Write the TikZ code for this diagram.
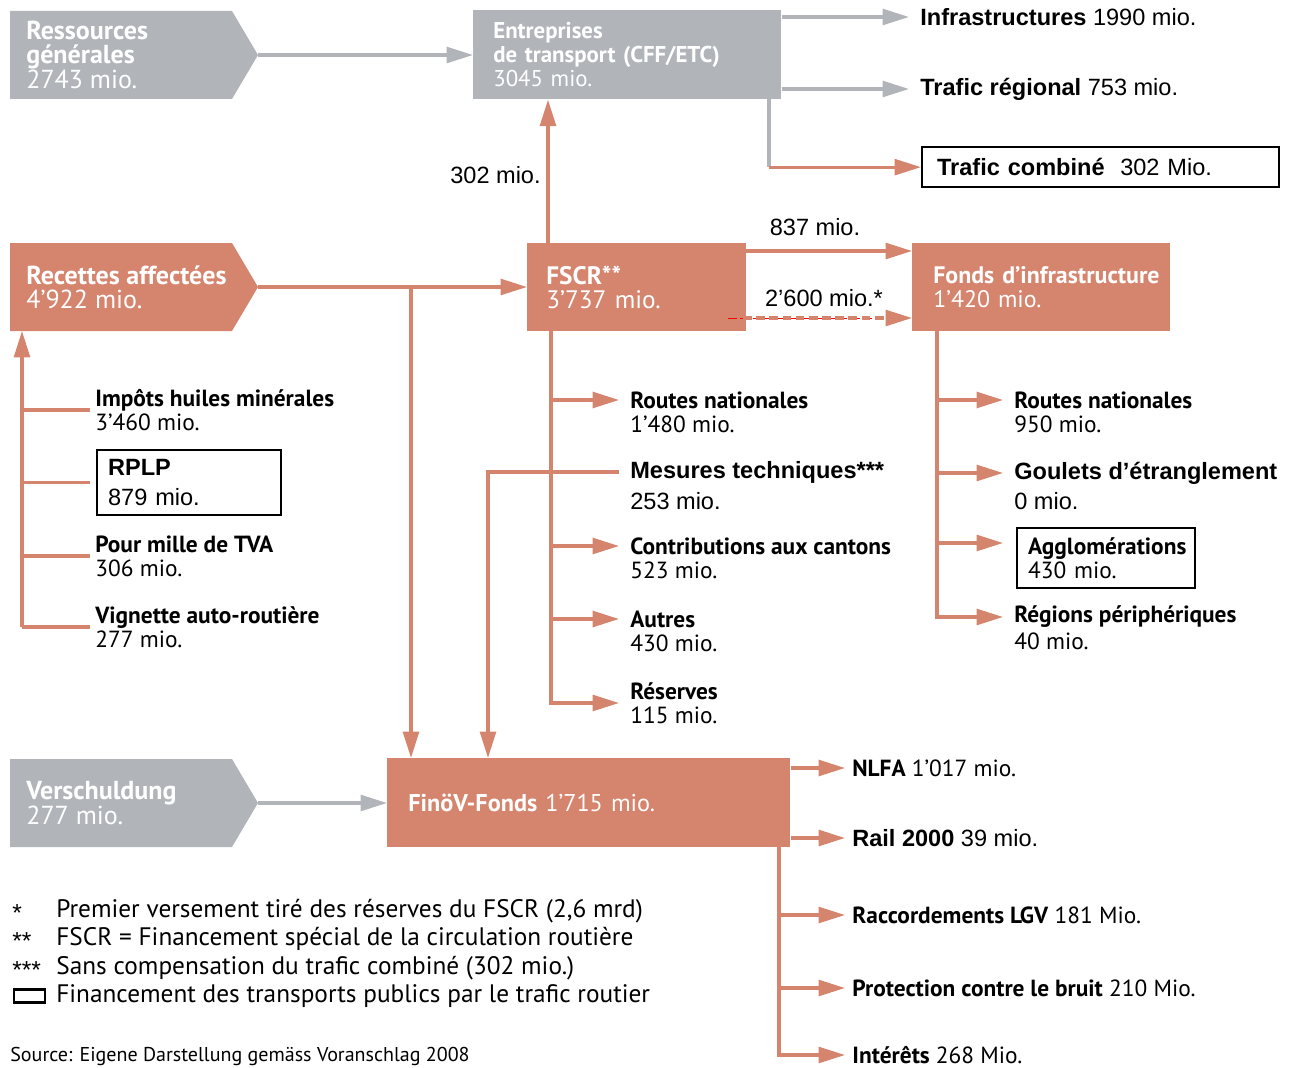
\documentclass[tikz,border=0pt]{standalone}
\usepackage{fontspec}
\setmainfont{PT Sans}
\newfontfamily\arialfont{Liberation Sans}
\usetikzlibrary{arrows.meta, positioning}

\definecolor{fscrorange}{RGB}{213,132,109}
\definecolor{boxgray}{RGB}{177,181,186}

\tikzset{
  orline/.style={draw=fscrorange, line width=1.8pt},
  grline/.style={draw=boxgray, line width=1.8pt},
  arrowto/.style={-{Triangle[length=15pt,width=9pt]}},
  boxtxt/.style={text=white, align=left, inner sep=0pt, anchor=west,
    font=\fontsize{13}{13.6}\selectfont},
  bigtxt/.style={boxtxt, font=\fontsize{14.8}{13.6}\selectfont},
  obox/.style={fill=fscrorange, boxtxt, anchor=north west},
  gbox/.style={fill=boxgray, boxtxt, anchor=north west},
  pubbox/.style={draw=black, line width=1.3pt, inner ysep=0pt, align=left,
    anchor=north west},
  lbl/.style={anchor=west, align=left, inner xsep=0.22cm, inner ysep=1pt,
    font=\fontsize{13.3}{13.6}\selectfont},
  albl/.style={lbl, font=\arialfont\fontsize{13.4}{14}\selectfont},
  note/.style={anchor=west, inner sep=0pt, font=\fontsize{14.4}{15}\selectfont},
}

\begin{document}
\begin{tikzpicture}[x=0.02cm, y=-0.02cm]
\useasboundingbox (0,0) rectangle (1292,1068);

% arrow shaped sources
\fill[boxgray] (10,11) -- (232,11) -- (258,55) -- (232,99) -- (10,99) -- cycle;
\coordinate (res) at (258,55);
\node[bigtxt] (restxt) at (26,55) {\textbf{Ressources}\\\textbf{générales}\\2743 mio.};

\fill[fscrorange] (10,243) -- (232,243) -- (258,287) -- (232,331) -- (10,331) -- cycle;
\coordinate (rec) at (258,287);
\coordinate (recbot) at (22,331);
\node[bigtxt] (rectxt) at (26,287) {\textbf{Recettes affectées}\\4’922 mio.};

\fill[boxgray] (10,759) -- (232,759) -- (258,803) -- (232,847) -- (10,847) -- cycle;
\coordinate (ver) at (258,803);
\node[bigtxt] (vertxt) at (26,803) {\textbf{Verschuldung}\\277 mio.};

% funds
\node[gbox, minimum height=1.78cm, text width=5.36cm, inner xsep=0.4cm] (ent) at (473,10)
  {\textbf{Entreprises}\\\textbf{de transport (CFF/ETC)}\\3045 mio.};
\node[obox, minimum height=1.76cm, text width=3.62cm, inner xsep=0.38cm,
  font=\fontsize{14.4}{13.6}\selectfont] (fscr) at (527,243)
  {\textbf{FSCR**}\\3’737 mio.};
\node[obox, minimum height=1.76cm, text width=4.32cm, inner xsep=0.42cm,
  font=\fontsize{13.6}{13.6}\selectfont] (fonds) at (912,243)
  {\mbox{\textbf{Fonds d’infrastructure}}\\1’420 mio.};
\node[obox, minimum height=1.78cm, text width=7.22cm, inner xsep=0.42cm,
  font=\fontsize{13.8}{13.6}\selectfont] (finov) at (387,758)
  {\textbf{FinöV-Fonds} 1’715 mio.};

\draw[grline, arrowto] (res) -- (ent.west |- res);
\draw[grline, arrowto] (ver) -- (finov.west |- ver);
\draw[orline, arrowto] (rec) -- (fscr.west |- rec);

% public transport
\node[albl] (infra) at (909,17) {\textbf{Infrastructures} 1990 mio.};
\node[albl] (regio) at (909,89) {\textbf{Trafic régional} 753 mio.};
\node[pubbox, minimum height=0.8cm, text width=6.54cm, inner xsep=0.3cm,
  font=\arialfont\fontsize{13.4}{14}\selectfont] (comb) at (921,146)
  {\textbf{Trafic combiné}\ \ 302 Mio.};
\draw[grline, arrowto] (ent.north east |- infra) -- (infra);
\draw[grline, arrowto] (ent.east |- regio) -- (regio);
\coordinate (entdrop) at (769,99);
\draw[grline] (entdrop) -- (entdrop |- comb);
\draw[orline, arrowto] (entdrop |- comb) -- (comb.west);

\coordinate (up) at (548,243);
\draw[orline, arrowto] (up) -- (up |- ent.south);
\node[albl, anchor=east] (l302) at (552,175) {302 mio.};

% FSCR to Fonds
\coordinate (f837) at (746,251);
\draw[orline, arrowto] (f837) -- (fonds.west |- f837);
\node[albl, anchor=center] (l837) at (815,227) {837 mio.};
\coordinate (f2600) at (728,318);
\draw[red, line width=0.35pt, dash pattern=on 5pt off 2pt] (f2600) -- ++(150,0);
\draw[orline, dash pattern=on 5pt off 2.5pt, arrowto] ([xshift=0.3cm]f2600) -- (fonds.west |- f2600);
\node[albl, anchor=center] (l2600) at (824,298) {2’600 mio.*};

% receipts
\coordinate (srcbar) at (22,627);
\node[lbl, inner xsep=0.1cm] (imp) at (90,410) {\textbf{Impôts huiles minérales}\\3’460 mio.};
\node[pubbox, minimum height=1.3cm, text width=3.24cm, inner xsep=0.22cm,
  font=\arialfont\fontsize{13.4}{17}\selectfont] (rplp) at (96,449) {\textbf{RPLP}\\879 mio.};
\node[lbl, inner xsep=0.1cm] (tva) at (90,556) {\textbf{Pour mille de TVA}\\306 mio.};
\node[lbl, inner xsep=0.1cm] (vig) at (90,627) {\textbf{Vignette auto-routière}\\277 mio.};
\draw[orline, arrowto] (srcbar) -- (recbot);
\draw[orline] (srcbar |- imp) -- (imp.west);
\draw[orline] (srcbar |- rplp) -- ([xshift=-0.12cm]rplp.west);
\draw[orline] (srcbar |- tva) -- (tva.west);
\draw[orline] (srcbar) -- (vig.west);
\coordinate (recdrop) at (411,287);
\draw[orline, arrowto] (recdrop) -- (recdrop |- finov.north);

% FSCR uses
\coordinate (fscrbar) at (551,331);
\node[lbl] (rn1) at (619,400) {\textbf{Routes nationales}};
\node[lbl] (rn1v) at (619,424) {1’480 mio.};
\node[albl] (mt) at (619,472) {\textbf{Mesures techniques***}};
\node[albl] (mtv) at (619,501) {253 mio.};
\node[lbl] (ct) at (619,546) {\textbf{Contributions aux cantons}};
\node[lbl] (ctv) at (619,570) {523 mio.};
\node[lbl] (au) at (619,619) {\textbf{Autres}};
\node[lbl] (auv) at (619,643) {430 mio.};
\node[lbl] (rs) at (619,703) {\textbf{Réserves}\\115 mio.};
\draw[orline, arrowto] (fscrbar) |- (rs);
\draw[orline, arrowto] (fscrbar |- rn1) -- (rn1);
\draw[orline, arrowto] (fscrbar |- ct) -- (ct);
\draw[orline, arrowto] (fscrbar |- au) -- (au);
\coordinate (mtx) at (488,472);
\draw[orline, arrowto] (mt.west) -| (mtx |- finov.north);

% Fonds uses
\coordinate (fondsbar) at (937,331);
\node[lbl] (rn2) at (1003,400) {\textbf{Routes nationales}};
\node[lbl] (rn2v) at (1003,424) {950 mio.};
\node[albl] (gl) at (1003,473) {\textbf{Goulets d’étranglement}};
\node[albl] (glv) at (1003,501) {0 mio.};
\node[pubbox, minimum height=1.2cm, text width=3.12cm, inner xsep=0.22cm,
  font=\fontsize{13.3}{13.6}\selectfont] (ag) at (1016,527) {\textbf{Agglomérations}\\430 mio.};
\coordinate (agin) at (1003,543);
\node[lbl] (rp) at (1003,617) {\textbf{Régions périphériques}};
\node[lbl] (rpv) at (1003,641) {40 mio.};
\draw[orline, arrowto] (fondsbar) |- (rp);
\draw[orline, arrowto] (fondsbar |- rn2) -- (rn2);
\draw[orline, arrowto] (fondsbar |- gl) -- (gl);
\draw[orline, arrowto] (fondsbar |- agin) -- (agin);

% FinoeV uses
\node[lbl, inner xsep=0.14cm] (nlfa) at (845,768) {\textbf{NLFA} 1’017 mio.};
\node[albl, inner xsep=0.14cm] (rail) at (845,838) {\textbf{Rail 2000} 39 mio.};
\node[lbl, inner xsep=0.14cm] (lgv) at (845,915) {\textbf{Raccordements LGV} 181 Mio.};
\node[lbl, inner xsep=0.14cm] (bruit) at (845,988) {\textbf{Protection contre le bruit} 210 Mio.};
\node[lbl, inner xsep=0.14cm] (int) at (845,1055) {\textbf{Intérêts} 268 Mio.};
\coordinate (finbar) at (779,847);
\draw[orline, arrowto] (finov.east |- nlfa) -- (nlfa);
\draw[orline, arrowto] (finov.east |- rail) -- (rail);
\draw[orline, arrowto] (finbar) |- (int);
\draw[orline, arrowto] (finbar |- lgv) -- (lgv);
\draw[orline, arrowto] (finbar |- bruit) -- (bruit);

% footnotes
\node[note, font=\arialfont\fontsize{14}{15}\selectfont] (n1) at (12,913) {*};
\node[note] (n1t) at (56,911) {Premier versement tiré des réserves du FSCR (2,6 mrd)};
\node[note, font=\arialfont\fontsize{14}{15}\selectfont] (n2) at (12,941) {**};
\node[note] (n2t) at (56,939) {FSCR = Financement spécial de la circulation routière};
\node[note, font=\arialfont\fontsize{14}{15}\selectfont] (n3) at (12,970) {***};
\node[note] (n3t) at (56,968) {Sans compensation du trafic combiné (302 mio.)};
\node[draw, line width=1.3pt, minimum width=0.62cm, minimum height=0.26cm, inner sep=0pt,
  anchor=west] (lgbox) at (13,996) {};
\node[note] (n4t) at (56,996) {Financement des transports publics par le trafic routier};
\node[note, font=\fontsize{11.4}{12}\selectfont] (src) at (10,1056)
  {Source: Eigene Darstellung gemäss Voranschlag 2008};
\end{tikzpicture}
\end{document}
